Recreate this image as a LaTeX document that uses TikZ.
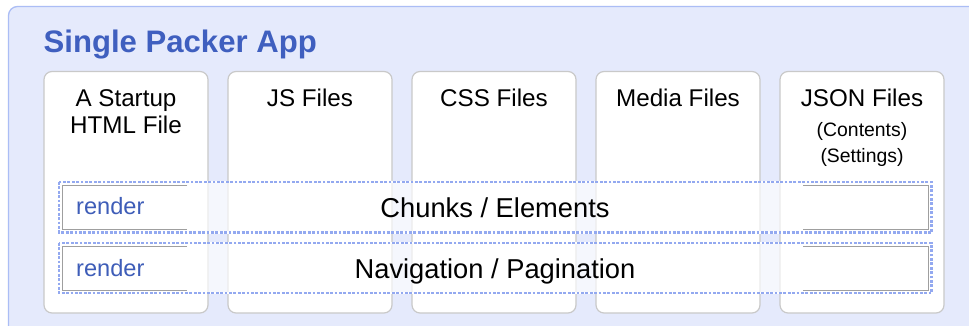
\documentclass[tikz,border=0pt]{standalone}
\usepackage{fontspec}
\setmainfont{Liberation Sans}
\definecolor{panelfill}{HTML}{E5EAFC}
\definecolor{panelline}{HTML}{ABBDF5}
\definecolor{titleblue}{HTML}{3F5FBF}
\definecolor{renderblue}{HTML}{3E5DB8}
\definecolor{dashblue}{HTML}{93A9F0}
\definecolor{colline}{HTML}{C9C9C9}
\tikzset{
  panel/.style={draw=panelline, fill=panelfill, line width=1.3pt, rounded corners=9pt},
  column/.style={draw=colline, fill=white, line width=1.2pt, rounded corners=8pt},
  barfill/.style={fill=white, fill opacity=0.65},
  barwhite/.style={draw=white, line width=2.8pt},
  bardash/.style={draw=dashblue, line width=2.8pt, dash pattern=on 2.8pt off 1.6pt},
  innerline/.style={draw=gray!75, line width=0.9pt},
  coltext/.style={font=\fontsize{24.2}{28}\selectfont, anchor=base, inner sep=0pt},
  smalltext/.style={font=\fontsize{19.4}{23}\selectfont, anchor=base, inner sep=0pt},
  bartext/.style={font=\fontsize{27.3}{32}\selectfont, anchor=base, inner sep=0pt},
  rendertext/.style={font=\fontsize{23.6}{28}\selectfont, text=renderblue, anchor=base west, inner sep=0pt},
  titletext/.style={font=\fontsize{31.1}{37}\selectfont\bfseries, text=titleblue, anchor=base west, inner sep=0pt}
}
\begin{document}
\begin{tikzpicture}[x=1pt,y=-1pt]
\useasboundingbox (0,0) rectangle (969,326);
\clip (0,0) rectangle (969,326);
\fill[white] (0,0) rectangle (969,326);
% outer panel
\draw[panel] (8.5,6.5) rectangle (990,350);
\node[titletext] (title) at (43.5,53) {Single Packer App};
% columns
\foreach \i in {0,...,4}{
  \draw[column] ({44+\i*184},71.5) rectangle ({208+\i*184},313);
}
\node[coltext] (c1a) at (126,107) {A Startup};
\node[coltext] (c1b) at (126,134) {HTML File};
\node[coltext] (c2) at (310,107) {JS Files};
\node[coltext] (c3) at (494,107) {CSS Files};
\node[coltext] (c4) at (678,107) {Media Files};
\node[coltext] (c5a) at (862,107) {JSON Files};
\node[smalltext] (c5b) at (862,136) {(Contents)};
\node[smalltext] (c5c) at (862,162) {(Settings)};
% bars
\foreach \ya/\yb in {182/232.5, 243/293}{
  \fill[barfill] (59,\ya) rectangle (931.5,\yb);
  \fill[white] (62,\ya+2) rectangle (187,\yb-2);
  \fill[white] (803,\ya+2) rectangle (928.5,\yb-2);
  \draw[innerline] (187,\ya+3) -- (62,\ya+3) -- (62,\yb-3) -- (187,\yb-3);
  \draw[innerline] (803,\ya+3) -- (928.5,\ya+3) -- (928.5,\yb-3) -- (803,\yb-3);
  \draw[barwhite] (59,\ya) rectangle (931.5,\yb);
  \draw[bardash] (59,\ya) rectangle (931.5,\yb);
}
\node[rendertext] (r1) at (76,214.3) {render};
\node[bartext] (b1) at (495,217) {Chunks / Elements};
\node[rendertext] (r2) at (76,276) {render};
\node[bartext] (b2) at (495,278.3) {Navigation / Pagination};
\end{tikzpicture}
\end{document}
